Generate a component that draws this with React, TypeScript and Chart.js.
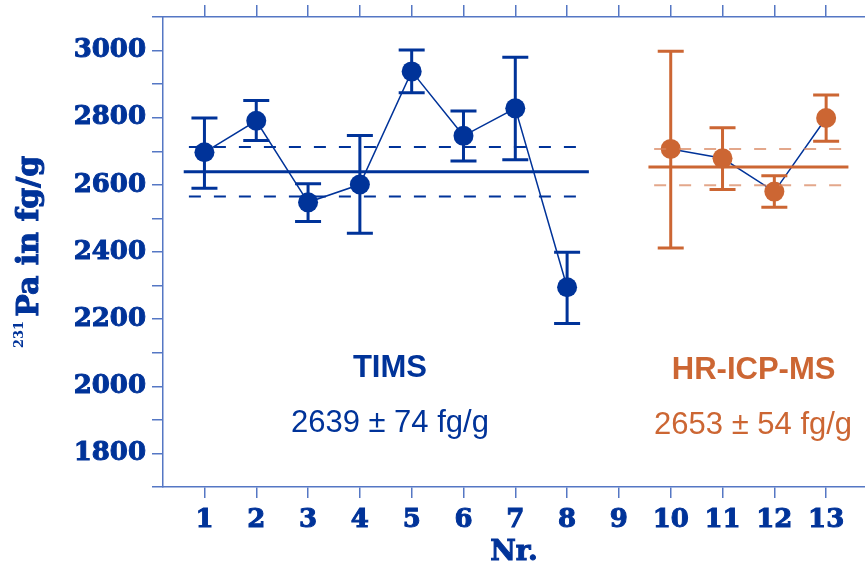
import React, { useEffect, useRef } from "react";
import { Chart, registerables } from "chart.js";

Chart.register(...registerables);

// ---- data ----
const allCategories = [1, 2, 3, 4, 5, 6, 7, 8, 9, 10, 11, 12, 13];

const timsCategories = [1, 2, 3, 4, 5, 6, 7, 8];
const timsValues = [2697, 2791, 2548, 2601, 2938, 2746, 2828, 2295];
const timsLow = [2590, 2732, 2491, 2456, 2874, 2671, 2675, 2187];
const timsHigh = [2799, 2851, 2603, 2747, 3002, 2820, 2980, 2399];
const timsMean = 2639;
const timsSd = 74;

const icpCategories = [10, 11, 12, 13];
const icpValues = [2707, 2679, 2580, 2799];
const icpLow = [2412, 2586, 2533, 2730];
const icpHigh = [2998, 2770, 2627, 2868];
const icpMean = 2653;
const icpSd = 54;

const yMin = 1700;
const yMax = 3100;
const xMin = 0.2;
const xMax = 13.75;

const BLUE = "#003399";
const AXIS = "#5577c4";
const ORANGE = "#cc6633";
const ORANGE_LIGHT = "rgba(215,130,90,0.7)";

const errorBarPlugin = {
  id: "errorBars",
  afterDatasetDraw(chart: any, args: any) {
    const ds: any = chart.data.datasets[args.index];
    if (!ds.errLow) return;
    const ctx = chart.ctx;
    const xs = chart.scales.x;
    const ys = chart.scales.y;
    ctx.save();
    ctx.strokeStyle = ds.errColor;
    ctx.lineWidth = 3;
    ds.data.forEach((p: any, i: number) => {
      const px = xs.getPixelForValue(p.x);
      const lo = ys.getPixelForValue(ds.errLow[i]);
      const hi = ys.getPixelForValue(ds.errHigh[i]);
      ctx.beginPath();
      ctx.moveTo(px, lo);
      ctx.lineTo(px, hi);
      ctx.moveTo(px - 13, lo);
      ctx.lineTo(px + 13, lo);
      ctx.moveTo(px - 13, hi);
      ctx.lineTo(px + 13, hi);
      ctx.stroke();
    });
    ctx.restore();
  },
};

const redrawPointsPlugin = {
  id: "redrawPoints",
  afterDatasetDraw(chart: any, args: any) {
    const ds: any = chart.data.datasets[args.index];
    if (!ds.errLow) return;
    const ctx = chart.ctx;
    const xs = chart.scales.x;
    const ys = chart.scales.y;
    ctx.save();
    ctx.fillStyle = ds.pointBackgroundColor;
    ds.data.forEach((p: any) => {
      ctx.beginPath();
      ctx.arc(xs.getPixelForValue(p.x), ys.getPixelForValue(p.y), 10, 0, Math.PI * 2);
      ctx.fill();
    });
    ctx.restore();
  },
};

const textPlugin = {
  id: "texts",
  afterDraw(chart: any) {
    const ctx = chart.ctx;
    const xs = chart.scales.x;
    const ys = chart.scales.y;
    ctx.save();
    ctx.textAlign = "center";
    ctx.textBaseline = "middle";
    ctx.fillStyle = BLUE;
    ctx.font = 'bold 31px "Liberation Sans"';
    ctx.fillText("TIMS", xs.getPixelForValue(4.58), ys.getPixelForValue(2052));
    ctx.font = '31px "Liberation Sans"';
    ctx.fillText(`${timsMean} ± ${timsSd} fg/g`, xs.getPixelForValue(4.58), ys.getPixelForValue(1889));
    ctx.fillStyle = ORANGE;
    ctx.font = 'bold 31px "Liberation Sans"';
    ctx.fillText("HR-ICP-MS", xs.getPixelForValue(11.6), ys.getPixelForValue(2046));
    ctx.font = '31px "Liberation Sans"';
    ctx.fillText(`${icpMean} ± ${icpSd} fg/g`, xs.getPixelForValue(11.59), ys.getPixelForValue(1883));

    // x axis title
    ctx.fillStyle = BLUE;
    ctx.strokeStyle = BLUE;
    ctx.lineWidth = 1;
    ctx.font = 'bold 28px "DejaVu Serif"';
    const cx = (chart.chartArea.left + chart.chartArea.right) / 2;
    ctx.fillText("Nr.", cx, 553);
    ctx.strokeText("Nr.", cx, 553);

    // y axis title with superscript
    ctx.translate(38, 348);
    ctx.rotate(-Math.PI / 2);
    ctx.textAlign = "left";
    ctx.textBaseline = "alphabetic";
    ctx.font = 'bold 13px "DejaVu Serif"';
    ctx.fillText("231", 0, -15);
    const w = ctx.measureText("231").width;
    ctx.font = 'bold 30px "DejaVu Serif"';
    ctx.fillText("Pa in fg/g", w + 4, 0);
    ctx.strokeText("Pa in fg/g", w + 4, 0);
    ctx.restore();
  },
};

const tickFont = { family: "DejaVu Serif", size: 26, weight: "bold" as const };

const zeroPad = (s: any) => {
  s.paddingTop = 0;
  s.paddingBottom = 0;
  s.paddingLeft = 0;
  s.paddingRight = 0;
};

export default function App() {
  const ref = useRef<HTMLCanvasElement | null>(null);
  useEffect(() => {
    if (!ref.current) return;
    const line = (x0: number, x1: number, y: number, color: string, width: number, dash: number[]) => ({
      type: "line" as const,
      data: [
        { x: x0, y },
        { x: x1, y },
      ],
      borderColor: color,
      borderWidth: width,
      borderDash: dash,
      pointRadius: 0,
      fill: false,
    });
    const chart = new Chart(ref.current, {
      type: "line",
      data: {
        datasets: [
          line(0.6, 8.42, timsMean, BLUE, 3, []),
          line(0.7, 8.32, timsMean + timsSd, BLUE, 2, [12, 13]),
          line(0.7, 8.32, timsMean - timsSd, BLUE, 2, [12, 13]),
          line(9.57, 13.43, icpMean, ORANGE, 3, []),
          line(9.68, 13.3, icpMean + icpSd, ORANGE_LIGHT, 2, [12, 13]),
          line(9.68, 13.3, icpMean - icpSd, ORANGE_LIGHT, 2, [12, 13]),
          {
            type: "line",
            data: timsCategories.map((c, i) => ({ x: c, y: timsValues[i] })),
            borderColor: BLUE,
            borderWidth: 1.5,
            pointRadius: 0,
            pointBackgroundColor: BLUE,
            fill: false,
            errLow: timsLow,
            errHigh: timsHigh,
            errColor: BLUE,
          } as any,
          {
            type: "line",
            data: icpCategories.map((c, i) => ({ x: c, y: icpValues[i] })),
            borderColor: BLUE,
            borderWidth: 1.5,
            pointRadius: 0,
            pointBackgroundColor: ORANGE,
            fill: false,
            errLow: icpLow,
            errHigh: icpHigh,
            errColor: ORANGE,
          } as any,
        ],
      },
      options: {
        responsive: false,
        animation: false,
        layout: { padding: 0 },
        plugins: { legend: { display: false }, tooltip: { enabled: false } },
        scales: {
          x: {
            type: "linear",
            position: "bottom",
            min: xMin,
            max: xMax,
            afterBuildTicks: (s: any) => {
              s.ticks = allCategories.map((v) => ({ value: v }));
            },
            afterFit: (s: any) => {
              s.height = 85;
              zeroPad(s);
            },
            grid: { drawOnChartArea: false, drawTicks: true, tickLength: 11, color: AXIS, lineWidth: 1.5 },
            border: { color: AXIS, width: 1.5 },
            ticks: {
              color: BLUE,
              font: tickFont,
              padding: 7,
              textStrokeColor: BLUE,
              textStrokeWidth: 1,
              callback: (v: any) => String(v),
              maxRotation: 0,
              autoSkip: false,
            },
          },
          x2: {
            type: "linear",
            position: "top",
            min: xMin,
            max: xMax,
            afterBuildTicks: (s: any) => {
              s.ticks = allCategories.map((v) => ({ value: v }));
            },
            afterFit: (s: any) => {
              s.height = 17;
              zeroPad(s);
            },
            grid: { drawOnChartArea: false, drawTicks: true, tickLength: 12, color: AXIS, lineWidth: 1.5 },
            border: { color: AXIS, width: 1.5 },
            ticks: { display: false, autoSkip: false },
          },
          y: {
            type: "linear",
            position: "left",
            min: yMin,
            max: yMax,
            afterFit: (s: any) => {
              s.width = 163;
              zeroPad(s);
            },
            grid: { drawOnChartArea: false, drawTicks: true, tickLength: 11, color: AXIS, lineWidth: 1.5 },
            border: { color: AXIS, width: 1.5 },
            ticks: {
              stepSize: 100,
              color: BLUE,
              font: tickFont,
              padding: 6,
              textStrokeColor: BLUE,
              textStrokeWidth: 1,
              autoSkip: false,
              callback: (v: any) => (Number(v) % 200 === 0 ? String(v) : ""),
            },
          },
        },
      },
      plugins: [errorBarPlugin, redrawPointsPlugin, textPlugin],
    });
    return () => chart.destroy();
  }, []);
  return (
    <div style={{ position: "absolute", left: 0, top: 0, width: 865, height: 572, background: "#fff" }}>
      <canvas ref={ref} width={865} height={572} style={{ width: 865, height: 572 }} />
    </div>
  );
}
